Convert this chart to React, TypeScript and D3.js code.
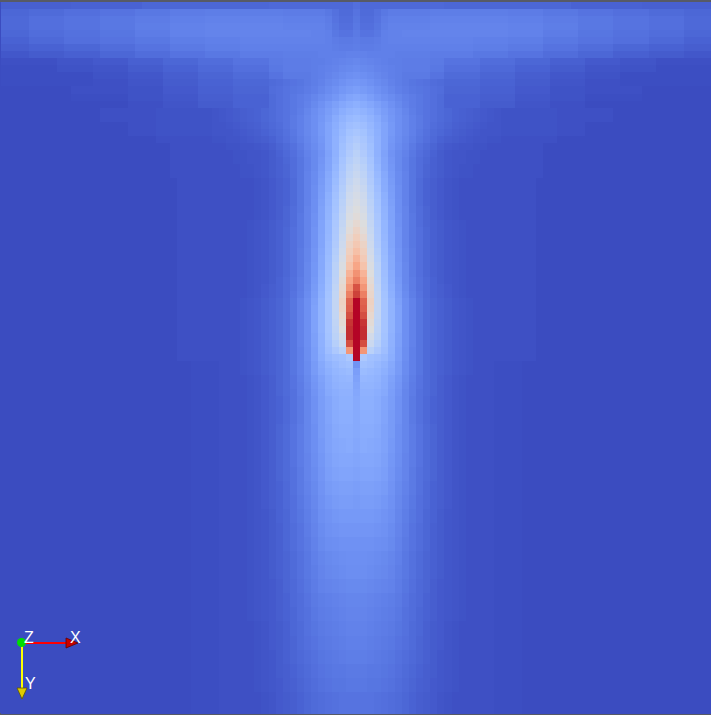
import React from "react";
import * as d3 from "d3";

const WIDTH = 711;
const HEIGHT = 715;
const N_COLS = 101;
const HALF = 51; // profile length: centre column outward

// ParaView "Cool to Warm" colour map (value 0..1)
const coolWarmColors = [
  "rgb(59,76,192)", "rgb(68,90,204)", "rgb(77,104,215)", "rgb(87,117,225)",
  "rgb(98,130,234)", "rgb(108,142,241)", "rgb(119,154,247)", "rgb(130,165,251)",
  "rgb(141,176,254)", "rgb(152,185,255)", "rgb(163,194,255)", "rgb(174,201,253)",
  "rgb(184,208,249)", "rgb(194,213,244)", "rgb(204,217,238)", "rgb(213,219,230)",
  "rgb(221,221,221)", "rgb(229,216,209)", "rgb(236,211,197)", "rgb(241,204,185)",
  "rgb(245,196,173)", "rgb(247,187,160)", "rgb(247,177,148)", "rgb(247,166,135)",
  "rgb(244,154,123)", "rgb(241,141,111)", "rgb(236,127,99)", "rgb(229,112,89)",
  "rgb(222,96,77)", "rgb(213,80,66)", "rgb(203,62,56)", "rgb(192,40,47)",
  "rgb(180,4,38)",
];
const coolWarmStops = coolWarmColors.map((_, i) => i / (coolWarmColors.length - 1));

// Field values (percent of range), half-profiles from the centre column outward.
// Each entry: [number of grid rows it covers, "value value*repeat ..."]
const topBandRows: [number, string][] = [
  [1, "8 6.5*4 6.5*8 6*18 5*10 4.5*10"],
  [1, "9 7 7 8.5 10 11 11 11*4 11.5*6 11.5*5 11*5 10*5 9*5 8*5 7*5 6*4"],
  [1, "9.5 7.5 7.5 9 11 12 12 12*4 12.5*6 12.5*5 12*5 11*5 10*5 9*5 8*5 6.5*4"],
  [1, "10 8 8 9.5 11.5 12.5 12.5 12.5*4 13*6 13*5 12.5*5 11.5*5 10*5 9*5 8*5 6.5*4"],
  [1, "10.5 9 9 10 12 12.5 12.5 13*4 13*6 13*5 12.5*5 11*5 9.5*5 8.5*5 7.5*5 6*4"],
  [1, "11 10.5 10.5 11 12 12.5 12.5 12.5*4 12.5*6 12*5 11.5*5 10*5 9*5 8*5 6.5*5 5*4"],
  [1, "11.5 11 11 11.5 12 12 12 12*4 12*6 11.5*5 10.5*5 9*5 7.5*5 6*5 5*5 4*4"],
  [1, "12.5 12.5 12 12 12 12 11.5 11.5*4 11*6 10*5 9*5 7.5*5 6*5 4.5*5 3.5*5 2.5*4"],
  [1, "14 13.5 13 12.5 12 11.5 11.5 11*4 10.5*2 9*5 7.5*5 6*5 4.5*5 3*5 2*5 1*8"],
  [1, "15 14.5 14 13 12.5 12 11.5 11*4 10*2 8*5 6.5*5 5*5 3.5*5 2*5 1.5*5 0.5*8"],
  [1, "16.5 16 15 14 13 12 11.5 10.5*4 9*2 7*5 5.5*5 4*5 2.5*5 1.5*5 0.5*13"],
  [1, "18 17.5 16.5 15 14 12.5 11.5 10.5 9.5 9 8.5 7.5 7 6*5 5*5 3.5*5 2*5 1*5 0.5*13"],
  [1, "20 19 18 16.5 15 13.5 12 11 10 9.5 9 8 7.5 5.5*5 4.5*5 3*5 1.5*5 1*8"],
  [1, "22.5 21.5 20 18 16.5 15 13.5 12 11 10 9 8 7 5*5 4*5 2.5*5 1.5*5 0.5*8"],
  [1, "25 24 22.5 20.5 18.5 16.5 14.5 12.5 11 10 9 8 7 5*5 3.5*5 2*5 1*5"],
];

const upperPlumeRows: [number, string][] = [
  [1, "27 26 24.5 22 19.5 17.5 15.5 13.5 11.5 10 9 8 7 6 5 4.5 4 3.5 3 2.5 2 1.5*8 1*8"],
  [1, "29 28 26 23.5 20.5 18 16 14 12 10.5 9 8 7 6 5 4.5 4 3.5 3 2.5 2 1.5*8 1*8"],
  [1, "31 30 27.5 24.5 21.5 18.5 16 14 12 10.5 9 7.5 6.5 5.5 4.5 4 3.5 3 2.5 2 2 1.5*8 1*4"],
  [1, "33 31.5 28.5 25 21.5 18.5 16 14 12 10 8.5 7 6 5 4 3.5 3 2.5 2 2 2 1.5*8 1*4"],
  [1, "35 33 29.5 25.5 21.5 18 15.5 13.5 11.5 9.5 8 6.5 5 4 3.5 3 2.5 2 2 1.5 1.5 1*8"],
  [1, "36.5 34 30.5 25.5 21.5 17.5 15 13 10.5 8.5 7 5.5 4 3 2.5 2 2 1.5 1.5 1 1 1*6"],
  [1, "38 35 31 25.5 21 17 14.5 12.5 10 8 6.5 5 3.5 2.5 2 2 1.5 1.5 1 1 1 1*6"],
  [1, "39.5 36.5 32 26 21.5 17.5 14.5 12 9.5 7.5 6 4.5 3.5 2.5 2 2 1.5 1.5 1 1 1 1*6"],
  [1, "41 38 33 27 22 18 14.5 12 9.5 7.5 5.5 4.5 3.5 2.5 2 1.5 1.5 1 1 1 1 1*6"],
  [1, "42.5 39.5 34 28 23 18.5 15 12.5 9.5 7.5 5.5 4.5 3.5 2.5 2 1.5 1.5 1 1 1 1 1*6"],
  [1, "44 41 35 29 23.5 19 15 12.5 9.5 7 5 4 3 2 1.5 1 1 1 1 1 1*6"],
  [1, "45.5 42.5 36 30 24 19.5 15.5 12.5 9.5 7 5 4 3 2 1.5 1 1 1 1 1 1*6"],
  [1, "47 44 37 31 25 20 15.5 12.5 9.5 7 5 4 3 2 1.5 1 1 1 1 1 1*6"],
  [1, "48 45 38 31.5 25.5 20.5 16 12.5 9.5 7 5 4 3 2 1.5 1 1 1 1 1 1*6"],
  [1, "49.5 46.5 39 32 26 21 16 13 9.5 7.5 5.5 4 3 2 1.5 1 1 1 1 1 1*6"],
  [1, "51 48 40 33 26.5 21 16.5 13 10 7.5 5.5 4 3 2 1.5 1 1 1 1 1 1*6"],
  [1, "53 49.5 41 33.5 27 21.5 16.5 13 10 7.5 5.5 4.5 3.5 2.5 2 1.5 1 1 1 1 1*6"],
  [1, "56 51 42 34 27 21.5 17 13 10 8 6 4.5 3.5 2.5 2 1.5 1 1 1 1 1*6"],
  [1, "58.5 53.5 43 34.5 27.5 22 17 13 10 8 6 4.5 3.5 2.5 2 1.5 1 1 1 1 1*6"],
  [1, "61 56 44 35 28 22 17 13 10 8 6 4.5 3.5 2.5 2 1.5 1 1 1 1 1*6"],
  [1, "64 58 45.5 36 28.5 22.5 17.5 13.5 10.5 8 6 4.5 3.5 2.5 2 1.5 1 1 1 1 1*6"],
  [1, "68 60 47 37 29 23 17.5 13.5 10.5 8 6 4.5 3.5 2.5 2 1.5 1 1 1 1 1*6"],
  [1, "72 63 48.5 38 29.5 23 18 14 10.5 8 6 4.5 3.5 2.5 2 1.5 1 1 1 1 1*6"],
  [1, "77 68 50 38.5 30 23.5 18 14 10.5 8 6 4.5 3.5 2.5 2 1.5 1 1 1 1 1*6"],
  [1, "81 72 52 39 30.5 24 18.5 14 11 8.5 6.5 5 3.5 2.5 2 1.5 1 1 1 1 1*6"],
  [1, "90 76 54 40 31 24.5 19 14.5 11 8.5 6.5 5 4 3 2 1.5 1 1 1 1 1*6"],
  [1, "93 81 55 40.5 31.5 25 19.5 15 11.5 9 6.5 5 4 3 2 1.5 1 1 1 1 1*6"],
];

const sourceRows: [number, string][] = [
  [1, "100 87 57 41 32 26 20.5 16 12.5 9.5 7 5.5 4.5 3.5 2.5 2 1.5 1 1 1 1*6"],
  [1, "100 88 56 41 32 26 21 16 12.5 9.5 7 5.5 4.5 3.5 2.5 2 1.5 1 1 1 1*6"],
  [1, "100 91 54 40.5 32 26 21 16 12.5 9.5 7 5.5 4.5 3.5 2.5 2 1.5 1 1 1 1*6"],
  [1, "100 95 52 40 32 26 21 16 12.5 9.5 7 5.5 4.5 3.5 2.5 2 1.5 1 1 1 1*6"],
  [1, "100 96 50 39.5 32 26 21 16 12.5 9.5 7 5.5 4.5 3.5 2.5 2 1.5 1 1 1 1*6"],
  [1, "100 96 46 38.5 31.5 25.5 20.5 16 12.5 9.5 7 5.5 4.5 3.5 2.5 2 1.5 1 1 1 1*6"],
  [1, "100 91 43 37 31 25.5 20.5 16 12.5 9.5 7 5.5 4.5 3.5 2.5 2 1.5 1 1 1 1*6"],
  [1, "100 76 38 34 30 25 20 15.5 12 9.5 7 5.5 4.5 3.5 2.5 2 1.5 1 1 1 1*6"],
  [1, "100 34 31 30 28 24.5 20 15.5 12 9.5 7 5.5 4.5 3.5 2.5 2 1.5 1 1 1 1*6"],
];

const wakeRows: [number, string][] = [
  [1, "17 31 30 28 26 23 19 15 12 9.5 7 5.5 4.5 3.5 2.5 2 1.5 1 1 1 0.5*4"],
  [1, "20 29 28 27 25 22.5 19 15 12 9.5 7 5.5 4.5 3.5 2.5 2 1.5 1 1 1 0.5*4"],
  [1, "21 27.5 27 26 24 21 18 14.5 11.5 9 7 5.5 4 3 2 1.5 1 1 1 1 0.5*4"],
  [1, "22 26.5 26.5 25.5 23.5 20.5 17.5 14 11 9 7 5.5 4 3 2 1.5 1 1 1 1 0.5*4"],
  [1, "22.5 25.5 25.5 24.5 23 20 17 13.5 11 8.5 7 5.5 4 3 2 1.5 1 1 1 1 0.5*4"],
  [2, "23 25 25 24 22 19.5 16.5 13.5 10.5 8.5 6.5 5 4 3 2 1.5 1 1 1 1 0.5*4"],
  [2, "23 24.5 24.5 23.5 21.5 19 16.5 13.5 10.5 8.5 6.5 5 4 3 2 1.5 1 1 1 1 0.5*4"],
  [2, "23 24 24 23 21 19 16 13.5 11 9 7 5.5 4 3 2 1.5 1 1 1 1 0.5*4"],
  [2, "22.5 23.5 23 22.5 21 18.5 16 13.5 11 9 7 5.5 4 3 2 1.5 1 1 1 1 0.5*4"],
  [2, "22 22.5 22.5 22 20.5 18 15.5 13 11 9 7 5.5 4 3 2 1.5 1 1 1 1 0.5*4"],
  [2, "21 21.5 21.5 21 20 17.5 15 13 10.5 8.5 7 5.5 4 3 2 1.5 1 1 1 1 0.5*4"],
  [2, "20 20.5 20.5 20 19 17 14.5 12.5 10.5 8.5 6.5 5 4 3 2 1.5 1 1 1 1 0.5*4"],
  [2, "19 19.5 19.5 19 18 16.5 14 12 10 8 6.5 5 4 3 2 1.5 1 1 1 1 0.5*4"],
  [2, "18.5 18.5 18.5 18 17 16 13.5 11.5 9.5 8 6 5 3.5 2.5 2 1.5 1 1 1 1 0.5*4"],
  [2, "17.5 17.5 17.5 17 16.5 15 13 11 9 7.5 6 4.5 3.5 2.5 2 1.5 1 1 1 1 0.5*4"],
  [2, "16.5 16.5 16.5 16 15.5 14.5 12.5 10.5 9 7.5 6 4.5 3.5 2.5 2 1.5 1 1 1 1 0.5*4"],
  [2, "16 16 15.5 15 14.5 13.5 12 10 8.5 7 5.5 4.5 3.5 2.5 2 1.5 1 1 1 1 0.5*4"],
  [2, "15.5 15.5 15 14.5 14 13 11.5 10 8.5 7 5.5 4.5 3.5 2.5 2 1.5 1 1 1 1 0.5*4"],
  [2, "14.5 14.5 14 13.5 13 12.5 11 9.5 8 6.5 5.5 4 3 2.5 2 1.5 1 1 1 1 0.5*4"],
  [2, "13.5 13.5 13 12.5 12 11.5 10.5 9 7.5 6.5 5 4 3 2.5 2 1.5 1 1 1 1 0.5*4"],
  [2, "13 13 12.5 12 11.5 11 10 8.5 7.5 6 5 4 3 2.5 2 1.5 1 1 1 1 0.5*4"],
  [2, "12.5 12.5 12 11.5 11 10.5 9.5 8.5 7 6 4.5 3.5 3 2 1.5 1 1 1 1 1 0.5*4"],
  [2, "12 12 11.5 11 10.5 10 9 8 7 5.5 4.5 3.5 3 2 1.5 1 1 1 1 1 0.5*4"],
  [2, "11.5 11.5 11 10.5 10 9.5 8.5 7.5 6.5 5.5 4.5 3.5 2.5 2 1.5 1 1 1 1 1 0.5*4"],
  [2, "10.5 10.5 10 10 9.5 9 8 7 6 5 4 3.5 2.5 2 1.5 1 1 1 1 1 0.5*4"],
  [2, "10 10 9.5 9.5 9 8.5 7.5 6.5 5.5 4.5 4 3 2.5 2 1.5 1 1 1 1 1 0.5*4"],
  [3, "9 9 9 8.5 8 7.5 7 6 5 4 3.5 3 2 1.5 1 1 1 1 1 1 0.5*4"],
];

function parseProfile(s: string): number[] {
  const out: number[] = [];
  s.trim().split(/\s+/).forEach((tok) => {
    const [v, n] = tok.split("*");
    const k = n ? +n : 1;
    for (let i = 0; i < k; i++) out.push(+v / 100);
  });
  while (out.length < HALF) out.push(0);
  return out.slice(0, HALF);
}

const fieldRows: number[][] = [];
[...topBandRows, ...upperPlumeRows, ...sourceRows, ...wakeRows].forEach(([count, s]) => {
  const p = parseProfile(s);
  for (let i = 0; i < count; i++) fieldRows.push(p);
});

const color = d3
  .scaleLinear<string>()
  .domain(coolWarmStops)
  .range(coolWarmColors)
  .interpolate(d3.interpolateRgb)
  .clamp(true);

const xScale = d3.scaleBand<number>().domain(d3.range(N_COLS)).range([1, 712]);
const yScale = d3.scaleBand<number>().domain(d3.range(fieldRows.length)).range([2, 713]);

export default function App() {
  const centre = Math.floor(N_COLS / 2);
  const cells: React.ReactElement[] = [];
  fieldRows.forEach((row, r) => {
    for (let c = 0; c < N_COLS; c++) {
      const v = row[Math.abs(c - centre)];
      cells.push(
        <rect
          key={r * N_COLS + c}
          x={xScale(c)}
          y={yScale(r)}
          width={xScale.bandwidth() + 0.5}
          height={yScale.bandwidth() + 0.5}
          fill={color(v)}
        />
      );
    }
  });

  const ox = 22;
  const oy = 643;
  return (
    <div style={{ position: "fixed", left: 0, top: 0 }}>
      <svg width={WIDTH} height={HEIGHT} style={{ display: "block" }}>
        <rect x={0} y={0} width={WIDTH} height={HEIGHT} fill="#575a66" />
        <rect x={0} y={2} width={WIDTH} height={711} fill={color(0)} />
        <g shapeRendering="crispEdges">{cells}</g>
        <g fontFamily="'Liberation Sans', Arial, sans-serif" fontSize={16} fill="#ffffff">
          <line x1={ox} y1={oy} x2={68} y2={oy} stroke="#ff0000" strokeWidth={2} />
          <polygon points={`66,638 78,${oy} 66,648`} fill="#c80000" stroke="#600000" strokeWidth={0.8} />
          <line x1={ox} y1={oy} x2={ox} y2={689} stroke="#ffff00" strokeWidth={2} />
          <polygon points={`17,688 27,688 ${ox},699`} fill="#e0cc00" stroke="#605800" strokeWidth={0.8} />
          <circle cx={21.5} cy={642.5} r={4.5} fill="#00dd00" />
          <text x={70} y={643}>X</text>
          <text x={24} y={643}>Z</text>
          <text x={25} y={689}>Y</text>
        </g>
      </svg>
    </div>
  );
}
